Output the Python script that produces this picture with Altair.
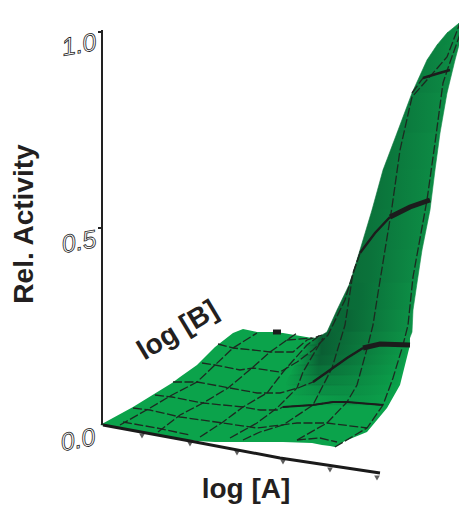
import altair as alt
import pandas as pd

# Surface outline below the rising sheet: station x, upper edge, lower edge
edge_x = [100,133,172,180,197,215,233,243,257,273,283,312,322,330,335,345,367,387,400,410]
edge_top = [425,407,383,377,365,347,333,329,332,332,333,338,337,331,331,331,331,331,331,331]
edge_bot = [425,431,438,439,441,442,442,442,442,442,442,443,445,446,447,441,432,408,385,345]

# Shading bands on the rising sheet: y, left, right, colours left/mid/right, mid stop
band_y = [18,24,33,45,60,93,133,170,210,250,283,310,332,345,355,365,375,385,395,405]
band_l = [466,458,447,437,427,412,397,383,372,360,350,337,327,305,300,295,290,285,288,290]
band_r = [467,466,463,459,455,447,440,435,430,422,417,413,412,407,405,403,400,397,392,388]
band_c0 = ["#0c8a44","#0c8a44","#0b8541","#0b7f40","#0b7a3e","#0b763c","#0b733b","#0b713a","#0b6f39","#0b6d38","#0a6a37","#0a6836",
           "#0a5e3300","#0a5e3300","#0a5e3300","#0a643500","#0a6a3700","#0a703a00","#0a7a3e00"]
band_c1 = ["#0c8a44","#0c8a44","#0b8541","#0b8240","#0b7f40","#0b7d3f","#0b7b3e","#0b793d","#0b773d","#0b733b","#0a6e39","#0a6736",
           "#0a5e33","#0a5e33","#0a5e33ee","#0a6435cc","#0a6a3799","#0a703a66","#0a7a3e33"]
band_c2 = ["#0e9046","#0e9046","#0e9046","#0d8e45","#0d8c45","#0d8c45","#0d8c45","#0d8c45","#0d8d45","#0d8e46","#0d9046","#0d9247",
           "#0d9547","#0c9a49","#0c9c49","#0b9e4a","#0ba04a","#0ba24b","#0ba34b"]
band_m = [0.3,0.3,0.3,0.3,0.3,0.3,0.3,0.3,0.3,0.3,0.3,0.25,0.15,0.2,0.22,0.25,0.28,0.32,0.36]

# Grid lines on the surface
rows = {
    "ra": ([218,233,253,270,293,307,322], [344,348,350,352,352,340,335]),
    "rb": ([202,215,240,253,280,297,313,328,345,350,360,375,390,410,430], [363,365,370,368,372,362,350,335,300,283,253,233,217,207,200]),
    "rc": ([173,197,230,257,280,298,313,330,347,363,380,410], [382,382,388,393,393,388,382,370,358,348,344,345]),
    "rd": ([155,172,203,243,260,277,283,313,333,347,383], [395,397,403,407,410,410,407,405,402,402,405]),
    "re": ([133,150,180,223,257,297,327,367], [408,410,417,423,428,423,423,428]),
    "rf": ([123,157,190], [422,428,435]),
    "rf2": ([297,320,337], [440,438,442]),
    "rt": ([412,423,450], [93,78,70]),
    "rb0": ([287,312], [340,338]),
}
cols = {
    "c1": ([335,367,383,393,403,408,413,427,435,443,448,465], [447,428,405,378,345,325,277,200,143,83,68,20]),
    "c2": ([297,327,347,357,368,373,378,392,400,412,447,460], [440,423,402,385,345,325,293,207,150,97,57,23]),
    "c3": ([243,260,283,313,332,345,353,360], [440,432,425,405,368,325,273,253]),
    "c4": ([230,257,277,297,303,323], [438,423,408,388,372,338]),
    "c5": ([200,223,243,267,283,307,320], [437,422,407,393,372,345,335]),
    "c6": ([158,180,203,228,252,270,287,297], [432,415,403,388,368,352,340,333]),
    "c7": ([120,150,172,197,215,233,257], [425,408,395,382,365,348,333]),
}
thick = {
    "t1": ([363,380,410], [348,344,345]),
    "t2": ([390,410,430], [217,207,200]),
    "t4": ([273,281], [332,332]),
}
medium = {
    "m1": ([313,330,347,363], [382,370,358,348]),
    "m3": ([423,436,450], [78,74,70]),
    "m4": ([360,375,390], [253,233,217]),
}
light = {
    "l1": ([283,313,333,347,383], [407,405,402,402,405]),
}

# Axes
yaxis_x = [102,102]
yaxis_y = [30,425]
xaxis_x = [103,190,280,380]
xaxis_y = [425,441,458,473]
xtick_x = [142,190,237,283,330,377]
xtick_y = [436,444,453,462,470,478]
ytick_y = [32,228]
tick_labels = ["1.0","0.5","0.0"]
tick_label_x = [79,79,78]
tick_label_y = [45,242,440]

sx = alt.Scale(domain=[8,459], range=[0,451], nice=False, zero=False)
sy = alt.Scale(domain=[8,505], range=[0,497], nice=False, zero=False)
X = lambda f: alt.X(f, type="quantitative", scale=sx, axis=None)
Y = lambda f: alt.Y(f, type="quantitative", scale=sy, axis=None)

def polylines(d):
    out = []
    for k, (xs, ys) in d.items():
        for i, (a, b) in enumerate(zip(xs, ys)):
            out.append({"id": k, "i": i, "x": a, "y": b})
    return pd.DataFrame(out)

layers = []
base = pd.DataFrame({"x": edge_x, "t": edge_top, "b": edge_bot})
layers.append(alt.Chart(base).mark_area(color="#0ba34b").encode(
    x=X("x"), y=Y("t"), y2=alt.Y2("b")))

for i in range(len(band_y) - 1):
    d = pd.DataFrame({"y": band_y[i:i+2], "l": band_l[i:i+2], "r": band_r[i:i+2]})
    g = alt.Gradient(gradient="linear", x1=0, x2=1, y1=0, y2=0, stops=[
        alt.GradientStop(color=band_c0[i], offset=0),
        alt.GradientStop(color=band_c1[i], offset=band_m[i]),
        alt.GradientStop(color=band_c2[i], offset=1)])
    layers.append(alt.Chart(d).mark_area(color=g, orient="horizontal", stroke=g, strokeWidth=0.6).encode(
        y=Y("y"), x=X("l"), x2=alt.X2("r")))

grid = polylines({**rows, **cols})
layers.append(alt.Chart(grid).mark_line(color="#1c2a20", strokeWidth=1.3, strokeDash=[9,2.5]).encode(
    x=X("x"), y=Y("y"), detail="id:N", order="i:Q"))
layers.append(alt.Chart(polylines(light)).mark_line(color="#1c1c1c", strokeWidth=1.8).encode(
    x=X("x"), y=Y("y"), detail="id:N", order="i:Q"))
layers.append(alt.Chart(polylines(medium)).mark_line(color="#1c1c1c", strokeWidth=2.4).encode(
    x=X("x"), y=Y("y"), detail="id:N", order="i:Q"))
layers.append(alt.Chart(polylines(thick)).mark_line(color="#1c1c1c", strokeWidth=5).encode(
    x=X("x"), y=Y("y"), detail="id:N", order="i:Q"))

layers.append(alt.Chart(pd.DataFrame({"x": yaxis_x, "y": yaxis_y})).mark_line(color="#222", strokeWidth=2).encode(x=X("x"), y=Y("y")))
layers.append(alt.Chart(pd.DataFrame({"x": xaxis_x, "y": xaxis_y})).mark_line(color="#1a1a1a", strokeWidth=3).encode(x=X("x"), y=Y("y"), order=alt.Order("x:Q")))
layers.append(alt.Chart(pd.DataFrame({"x": xtick_x, "y": xtick_y})).mark_point(color="#1a1a1a", filled=True, shape="triangle-down", size=32).encode(x=X("x"), y=Y("y")))
layers.append(alt.Chart(pd.DataFrame({"y": ytick_y, "x": [98,98], "x2": [102,102]})).mark_rule(color="#222", strokeWidth=2).encode(x=X("x"), x2=alt.X2("x2"), y=Y("y")))

layers.append(alt.Chart(pd.DataFrame({"x": tick_label_x, "y": tick_label_y, "t": tick_labels})).mark_text(
    font="Liberation Sans", fontStyle="italic", fontSize=25, angle=350, fill="white", stroke="#222", strokeWidth=0.8).encode(
    x=X("x"), y=Y("y"), text="t:N"))

def label(txt, x, y, angle, size):
    return alt.Chart(pd.DataFrame({"x": [x], "y": [y], "t": [txt]})).mark_text(
        font="Liberation Sans", fontWeight="bold", fontSize=size, angle=angle, color="#231f20", align="center", baseline="middle"
    ).encode(x=X("x"), y=Y("y"), text="t:N")

layers.append(label("Rel. Activity", 25, 224, 270, 28))
layers.append(label("log [A]", 246, 490, 0, 28))
layers.append(label("log [B]", 178, 331, 329, 28))

chart = alt.layer(*layers).properties(
    width=451, height=497, padding=0,
    autosize=alt.AutoSizeParams(type="none"),
    view=alt.ViewConfig(stroke=None),
    background="white",
)
chart.save("out.html", embed_options={"renderer": "svg", "actions": False})
